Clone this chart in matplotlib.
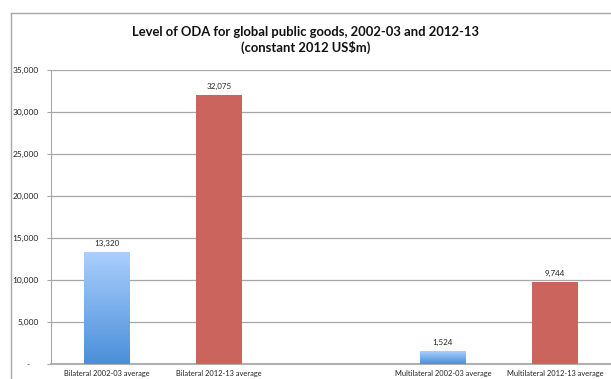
import matplotlib.pyplot as plt
import numpy as np
from matplotlib.lines import Line2D
from matplotlib.colors import LinearSegmentedColormap
from matplotlib.ticker import FuncFormatter

plt.rcParams['font.family'] = ['Lato', 'DejaVu Sans']

# data
categories = ["Bilateral 2002-03 average", "Bilateral 2012-13 average", "",
              "Multilateral 2002-03 average", "Multilateral 2012-13 average"]
values = [13320, 32075, np.nan, 1524, 9744]
periods = ["2002-03", "2012-13", None, "2002-03", "2012-13"]

y_ticks = [0, 5000, 10000, 15000, 20000, 25000, 30000, 35000]

fig = plt.figure(figsize=(6.11, 3.79), dpi=100)
ax = fig.add_axes([51 / 611, 1 - 364 / 379, 560 / 611, 294 / 379])

# outer chart frame (runs off the right and bottom edge)
fig.add_artist(Line2D([10.5 / 611, 10.5 / 611], [0, 1 - 13 / 379], color="#a6a6a6", lw=1))
fig.add_artist(Line2D([10.5 / 611, 1], [1 - 13 / 379, 1 - 13 / 379], color="#a6a6a6", lw=1))

x = np.arange(len(categories))

# blue gradient, light at top, darker at bottom
grad = np.linspace(0, 1, 256).reshape(-1, 1)
blue_cmap = LinearSegmentedColormap.from_list("b", ["#4a8fd8", "#aacffd"])

for xi, v, p in zip(x, values, periods):
    if np.isnan(v):
        continue
    if p == "2002-03":
        bar = ax.bar(xi, v, width=0.41, color="none", zorder=3)[0]
        im = ax.imshow(grad, cmap=blue_cmap, aspect="auto", origin="lower",
                       extent=[xi - 0.205, xi + 0.205, 0, v], zorder=3)
        im.set_clip_path(bar)
    else:
        ax.bar(xi, v, width=0.41, color="#cb645c", zorder=3)
    ax.annotate(f"{v:,.0f}", (xi, v), xytext=(0, 3.5), textcoords="offset points",
                ha="center", va="bottom", fontsize=5.8, color="#222222")

ax.set_xlim(-0.5, len(categories) - 0.5)
ax.set_ylim(0, 35000)

ax.set_yticks(y_ticks)
ax.yaxis.set_major_formatter(FuncFormatter(lambda v, _: "-    " if v == 0 else f"{v:,.0f}"))
ax.grid(axis="y", color="#a6a6a6", lw=0.9, zorder=0)
ax.set_axisbelow(True)

ax.set_xticks(x)
ax.set_xticklabels(categories)
ax.tick_params(axis="x", length=0, labelsize=5.4, pad=4, colors="#222222")
ax.tick_params(axis="y", length=3, width=0.8, color="#a6a6a6", labelsize=6,
               pad=6, labelcolor="#222222")

for s in ["top", "right"]:
    ax.spines[s].set_visible(False)
ax.spines["left"].set_color("#a6a6a6")
ax.spines["bottom"].set_color("#b0b0b0")
ax.spines["bottom"].set_linewidth(1.5)

fig.text(0.5, 1 - 40 / 379,
         "Level of ODA for global public goods, 2002-03 and 2012-13\n(constant 2012 US$m)",
         ha="center", va="center", fontsize=9.4, fontweight="bold",
         linespacing=1.2, color="#111111")

fig.savefig("out.png", dpi=100)
